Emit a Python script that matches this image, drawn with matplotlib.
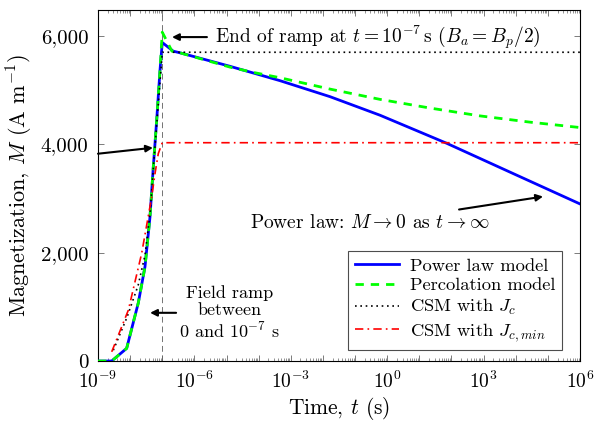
import matplotlib
matplotlib.use("Agg")
import matplotlib.pyplot as plt
from matplotlib.ticker import LogLocator, FuncFormatter, FixedLocator, NullFormatter
import math

plt.rcParams['font.family'] = ['cmr10', 'DejaVu Serif']
plt.rcParams['mathtext.fontset'] = 'cm'
plt.rcParams['axes.unicode_minus'] = False
plt.rcParams['axes.formatter.use_mathtext'] = True

#%% data
t_pow = [1e-9, 2.67e-9, 7.8e-9, 1.79e-8, 2.9e-8, 4.15e-8, 5.26e-8, 6.71e-8, 8.51e-8, 1e-7,
         2.19e-7, 3.55e-7, 1.29e-5, 4.57e-4, 1.66e-2, 0.60, 70.8, 8510, 1e6]
M_pow = [0, 0, 234, 1070, 1740, 2660, 3580, 4450, 5370, 5880,
         5720, 5690, 5440, 5176, 4880, 4537, 4020, 3458, 2900]

t_perc = [1e-9, 2.67e-9, 7.8e-9, 1.79e-8, 2.9e-8, 4.15e-8, 5.26e-8, 6.71e-8, 8.51e-8, 1e-7,
          2.0e-7, 3.55e-7, 1.29e-5, 7.9e-5, 4.57e-4, 1.66e-2, 0.60, 21.4, 775, 2.75e4, 1e6]
M_perc = [0, 0, 234, 1070, 1740, 2660, 3580, 4450, 5370, 6070,
          5720, 5690, 5425, 5320, 5230, 5020, 4830, 4670, 4525, 4410, 4310]

t_csm = [3.0e-9, 7.9e-9, 1.78e-8, 2.9e-8, 4.2e-8, 5.25e-8, 6.8e-8, 8.5e-8, 1e-7, 1e6]
M_csm = [200, 800, 1400, 1950, 2750, 3550, 4400, 5150, 5700, 5700]

t_csm_min = [2.67e-9, 8.8e-9, 2.29e-8, 4.69e-8, 5.94e-8, 7.53e-8, 1e-7, 1e6]
M_csm_min = [170, 940, 1990, 3030, 3460, 3830, 4030, 4030]

#%% plot
fig = plt.figure(figsize=(5.95, 4.22), dpi=100)
ax = fig.add_axes([0.1647, 0.1445, 0.8101, 0.8318])

ax.axvline(1e-7, color='0.45', lw=0.7, ls=(0, (6, 4)), zorder=1)

ax.plot(t_pow, M_pow, color='#0000ff', lw=2.0, label='Power law model', zorder=3)
ax.plot(t_perc, M_perc, color='#00ff00', lw=2.0, ls=(0, (3, 2.5)), label='Percolation model', zorder=4)
ax.plot(t_csm, M_csm, color='black', lw=1.2, ls=(0, (1, 2.2)), label='CSM with $J_c$', zorder=5)
ax.plot(t_csm_min, M_csm_min, color='#ff0000', lw=1.2, ls=(0, (5, 2.5, 1, 2.5)),
        label='CSM with $J_{c,min}$', zorder=5)

ax.set_xscale('log')
ax.set_xlim(1e-9, 1e6)
ax.set_ylim(0, 6480)

ax.xaxis.set_major_locator(LogLocator(base=10, numticks=30))
ax.xaxis.set_minor_locator(LogLocator(base=10, subs=range(2, 10), numticks=30))
ax.xaxis.set_minor_formatter(NullFormatter())

def xfmt(v, pos):
    e = int(round(math.log10(v)))
    if e % 3 == 0:
        return '$10^{%d}$' % e
    return ''
ax.xaxis.set_major_formatter(FuncFormatter(xfmt))
ax.yaxis.set_major_locator(FixedLocator([0, 2000, 4000, 6000]))
ax.yaxis.set_major_formatter(FuncFormatter(lambda v, p: '{:,.0f}'.format(v)))

ax.tick_params(which='both', direction='in', top=True, right=True, color='0.4')
ax.tick_params(axis='x', labelsize=14, pad=7)
ax.tick_params(axis='y', labelsize=15, pad=7)
ax.tick_params(which='major', length=4.5, width=0.6)
ax.tick_params(which='minor', length=2.5, width=0.5)
for s in ax.spines.values():
    s.set_linewidth(0.8)

ax.set_xlabel('Time, $t$ (s)', fontsize=15.5, labelpad=2)
ax.set_ylabel('Magnetization, $M$ (A m$^{-1}$)', fontsize=16, labelpad=4)

arr = dict(arrowstyle='-|>', color='black', lw=1.5, mutation_scale=10, shrinkA=0, shrinkB=0)
ax.annotate('', xy=(10**-6.697, 5980), xytext=(10**-5.61, 5980), arrowprops=arr)
ax.text(10**-5.36, 5980, r'End of ramp at $t = 10^{-7}\,$s ($B_a = B_p/2$)', fontsize=14, va='center', ha='left')

ax.annotate('', xy=(10**-7.29, 3937), xytext=(10**-9.0, 3827), arrowprops=arr)

ax.annotate('', xy=(10**-7.38, 890), xytext=(10**-6.57, 890), arrowprops=arr)
ax.text(10**-4.92, 883, 'Field ramp\nbetween\n0 and $10^{-7}$ s', fontsize=13,
        ha='center', va='center', linespacing=1.15)

ax.annotate('', xy=(10**4.85, 3036), xytext=(10**2.236, 2797), arrowprops=arr)
ax.text(10**-0.53, 2557, r'Power law: $M \to 0$ as $t \to \infty$', fontsize=14, ha='center', va='center')

leg = ax.legend(loc='lower right', bbox_to_anchor=(0.9627, 0.0313), borderaxespad=0,
                fontsize=13.3, fancybox=False, edgecolor='0.3', framealpha=1,
                handlelength=2.4, labelspacing=0.2, borderpad=0.35, handletextpad=0.6)
leg.get_frame().set_linewidth(0.8)

fig.savefig('out.png', dpi=100)
